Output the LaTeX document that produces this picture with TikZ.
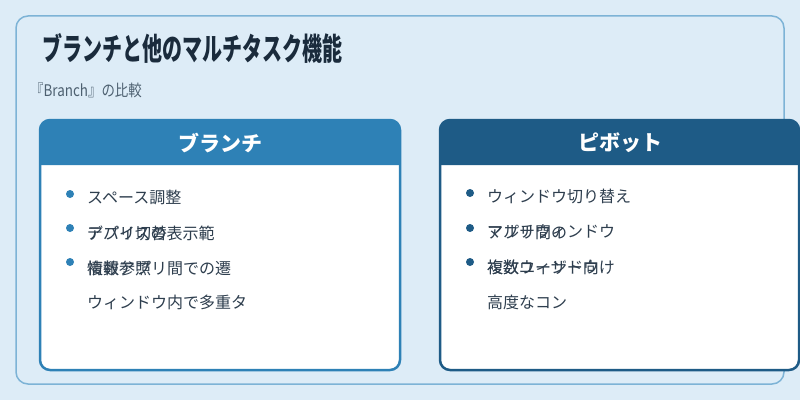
\documentclass[tikz,border=0pt]{standalone}
\usepackage{fontspec}
\setmainfont{Noto Sans CJK JP}
\usepackage{tikz}
\usetikzlibrary{positioning}
\usepackage{xcolor}
\definecolor{pagebg}{HTML}{DDECF7}
\definecolor{frameline}{HTML}{7DB3D6}
\definecolor{branchblue}{HTML}{2E81B6}
\definecolor{pivotblue}{HTML}{1E5B86}
\definecolor{titleink}{HTML}{1A2B3C}
\definecolor{subink}{HTML}{4D6070}
\definecolor{itemink}{HTML}{2E3E4E}
\tikzset{
  frame/.style    = {draw=frameline, line width=1.5pt, rounded corners=12pt},
  card/.style     = {line width=2.5pt, rounded corners=10pt, fill=white},
  headtext/.style = {text=white, inner sep=0pt, font=\bfseries\fontsize{21}{25}\selectfont},
  item/.style     = {anchor=west, inner sep=0pt, text=itemink, font=\fontsize{16}{19}\selectfont},
  dot/.style      = {circle, inner sep=0pt, minimum size=8pt},
}

\begin{document}
\begin{tikzpicture}[x=1pt,y=1pt]
\useasboundingbox (0,0) rectangle (800,400);
\fill[pagebg] (0,0) rectangle (800,400);
\draw[frame] (16,16) rectangle (784,384);

\node[anchor=west, inner sep=0pt, text=titleink, font=\bfseries\fontsize{31}{35}\selectfont]
  (title) at (42,352) {\scalebox{0.645}[1]{ブランチと他のマルチタスク機能}};
\node[anchor=west, inner sep=0pt, text=subink, font=\fontsize{16}{19}\selectfont]
  (subtitle) at (30,310) {\scalebox{0.84}[1]{『Branch』の比較}};

% left card: branch
\draw[card, draw=branchblue] (40,30) rectangle (400,280);
\fill[branchblue] (40,235) -- (40,270) arc[start angle=180, end angle=90, radius=10]
  -- (390,280) arc[start angle=90, end angle=0, radius=10] -- (400,235) -- cycle;
\node[headtext] (branchhead) at (220,257) {ブランチ};
\node[dot, fill=branchblue] (bl1) at (70,206) {};
\node[dot, fill=branchblue] (bl2) at (70,172) {};
\node[dot, fill=branchblue] (bl3) at (70,138) {};
\node[item] (l1) at (87,203) {スペース調整};
\node[item] (l2a) at (87,167) {アプリ切替};
\node[item] (l2b) at (87,167) {デバイスの表示範};
\node[item] (l3a) at (87,132) {情報参照};
\node[item] (l3b) at (87,132) {複数アプリ間での遷};
\node[item] (l4) at (87,98) {ウィンドウ内で多重タ};

% right card: pivot
\draw[card, draw=pivotblue] (440,30) rectangle (799,280);
\fill[pivotblue] (440,235) -- (440,270) arc[start angle=180, end angle=90, radius=10]
  -- (789,280) arc[start angle=90, end angle=0, radius=10] -- (799,235) -- cycle;
\node[headtext] (pivothead) at (620,257) {ピボット};
\node[dot, fill=pivotblue] (br1) at (470,207) {};
\node[dot, fill=pivotblue] (br2) at (470,172) {};
\node[dot, fill=pivotblue] (br3) at (470,138) {};
\node[item] (r1) at (487,204) {ウィンドウ切り替え};
\node[item] (r2a) at (487,168) {アプリ間の};
\node[item] (r2b) at (487,168) {マルチウィンドウ};
\node[item] (r3a) at (487,133) {複数ユーザー向け};
\node[item] (r3b) at (487,133) {複数ウィンドウ};
\node[item] (r4) at (487,98) {高度なコン};
\end{tikzpicture}
\end{document}
